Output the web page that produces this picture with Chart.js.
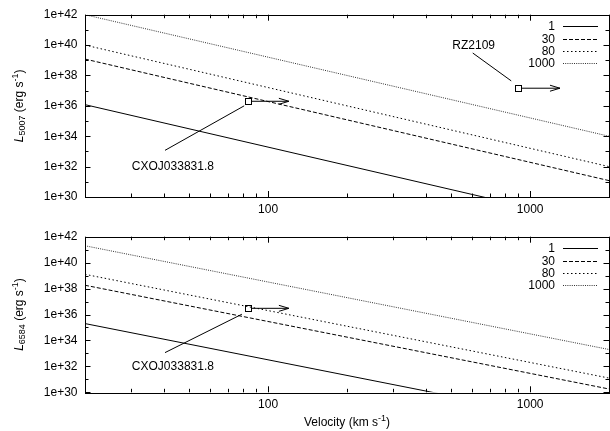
<!DOCTYPE html>
<html>
<head>
<meta charset="utf-8">
<script src="https://cdn.jsdelivr.net/npm/chart.js@4/dist/chart.umd.min.js"></script>
<style>
  html, body { margin: 0; padding: 0; background: #fff; overflow: hidden; }
  #wrap { position: relative; width: 610px; height: 431px; overflow: hidden; }
  canvas { position: absolute; left: 0; }
</style>
</head>
<body>
<div id="wrap">
  <canvas id="top" width="614" height="215" style="top:0"></canvas>
  <canvas id="bot" width="614" height="216" style="top:215px"></canvas>
</div>
<script>
// ---------- data ----------
const velocity = [20, 2000];                 // km/s, line end points
const seriesLabels = ['1', '30', '80', '1000'];

// L5007 (upper panel), values at velocity[0] and velocity[1]
const l5007_1    = [1.2e36, 1.2e28];
const l5007_30   = [1.2e39, 1.2e31];
const l5007_80   = [1.0e40, 1.0e32];
const l5007_1000 = [1.0e42, 1.0e34];

// L6584 (lower panel)
const l6584_1    = [2.0e35, 2.0e27];
const l6584_30   = [1.8e38, 1.8e30];
const l6584_80   = [1.25e39, 1.25e31];
const l6584_1000 = [2.0e41, 2.0e33];

// axis ticks
const xTickValues = [20, 30, 40, 50, 60, 70, 80, 90, 100, 200, 300, 400, 500, 600, 700, 800, 900, 1000, 2000];
const xTickLabels = ['100', '1000'];
const yExponents = [30, 31, 32, 33, 34, 35, 36, 37, 38, 39, 40, 41, 42];

// annotated sources (lower limits, arrows to higher velocity)
const srcNames5007   = ['CXOJ033831.8', 'RZ2109'];
const srcV5007       = [84, 900];
const srcL5007       = [2.0e36, 1.45e37];
const srcArrowV5007  = [120, 1300];
const lblV5007       = [43.3, 609];
const lblL5007       = [1.05e32, 8.5e39];
const ptrFromV5007   = [40.4, 604];
const ptrFromL5007   = [1.18e33, 3.0e39];
const ptrToV5007     = [81, 847];
const ptrToL5007     = [1.0e36, 4.4e37];

const srcNames6584   = ['CXOJ033831.8'];
const srcV6584       = [84];
const srcL6584       = [3.0e36];
const srcArrowV6584  = [120];
const lblV6584       = [43.3];
const lblL6584       = [8.7e31];
const ptrFromV6584   = [40.4];
const ptrFromL6584   = [1.15e33];
const ptrToV6584     = [79.4];
const ptrToL6584     = [1.05e36];

// ---------- helpers ----------
const FONT = '"Liberation Sans", Arial, Helvetica, sans-serif';
const dashes = [[], [4, 2], [1.5, 2.5], [1, 1.2]];
const colors = ['#000', '#000', '#000', '#333'];

function pts(ys) { return velocity.map((v, i) => ({ x: v, y: ys[i] })); }

function makeDatasets(arrs) {
  return arrs.map((a, i) => ({
    label: seriesLabels[i],
    data: pts(a),
    showLine: true,
    borderColor: colors[i],
    borderWidth: 1,
    borderDash: dashes[i],
    pointRadius: 0,
    fill: false,
    tension: 0
  }));
}

function drawRich(ctx, parts, cx, cy, rot) {
  ctx.save();
  ctx.translate(cx, cy);
  if (rot) ctx.rotate(rot);
  const fontFor = p => (p.italic ? 'italic ' : '') + (p.sub || p.sup ? '9px ' : '12px ') + FONT;
  let w = 0;
  parts.forEach(p => { ctx.font = fontFor(p); w += ctx.measureText(p.t).width; });
  let x = -w / 2;
  ctx.fillStyle = '#000';
  ctx.textBaseline = 'middle';
  ctx.textAlign = 'left';
  parts.forEach(p => {
    ctx.font = fontFor(p);
    const dy = p.sub ? 3 : (p.sup ? -4 : 0);
    ctx.fillText(p.t, x, dy);
    x += ctx.measureText(p.t).width;
  });
  ctx.restore();
}

function isPow10(v) { const l = Math.log10(v); return Math.abs(l - Math.round(l)) < 1e-9; }

function framePlugin(opts) {
  return {
    id: 'frame',
    afterDatasetsDraw(chart) {
      const { ctx, chartArea: a, scales: { x, y } } = chart;
      ctx.save();
      ctx.strokeStyle = '#000';
      ctx.lineWidth = 1;
      ctx.setLineDash([]);
      // ticks pointing inward
      ctx.beginPath();
      x.ticks.forEach(t => {
        const px = Math.round(x.getPixelForValue(t.value)) + 0.5;
        const len = isPow10(t.value) ? 6 : 3.5;
        ctx.moveTo(px, a.bottom); ctx.lineTo(px, a.bottom - len);
        ctx.moveTo(px, a.top); ctx.lineTo(px, a.top + len);
      });
      y.ticks.forEach(t => {
        const py = Math.round(y.getPixelForValue(t.value)) + 0.5;
        const e = Math.round(Math.log10(t.value));
        const len = e % 2 === 0 ? 5.5 : 3.5;
        ctx.moveTo(a.left, py); ctx.lineTo(a.left + len, py);
        ctx.moveTo(a.right, py); ctx.lineTo(a.right - len, py);
      });
      ctx.stroke();
      ctx.strokeRect(Math.round(a.left) + 0.5, Math.round(a.top) + 0.5,
                     Math.round(a.right - a.left), Math.round(a.bottom - a.top));

      // legend
      ctx.font = '12px ' + FONT;
      ctx.textAlign = 'right';
      ctx.textBaseline = 'middle';
      chart.data.datasets.forEach((ds, i) => {
        const ry = Math.round(a.top + 11.5 + i * 12.4) + 0.5;
        ctx.fillStyle = '#000';
        ctx.fillText(ds.label, 555, ry);
        ctx.strokeStyle = ds.borderColor;
        ctx.setLineDash(ds.borderDash);
        ctx.beginPath();
        ctx.moveTo(563, ry); ctx.lineTo(598, ry);
        ctx.stroke();
      });
      ctx.setLineDash([]);
      ctx.strokeStyle = '#000';
      ctx.fillStyle = '#000';

      // annotations
      const s = opts.src;
      ctx.save();
      ctx.beginPath();
      ctx.rect(a.left, a.top, a.right - a.left, a.bottom - a.top);
      ctx.clip();
      s.names.forEach((name, i) => {
        const sx = x.getPixelForValue(s.v[i]), sy = y.getPixelForValue(s.L[i]);
        const ex = x.getPixelForValue(s.arrowV[i]);
        ctx.strokeRect(Math.round(sx - 3) + 0.5, Math.round(sy - 3) + 0.5, 6, 6);
        ctx.beginPath();
        ctx.moveTo(sx + 3, sy); ctx.lineTo(ex, sy);
        ctx.moveTo(ex - 10, sy - 3); ctx.lineTo(ex, sy); ctx.lineTo(ex - 10, sy + 3);
        ctx.moveTo(x.getPixelForValue(s.fromV[i]), y.getPixelForValue(s.fromL[i]));
        ctx.lineTo(x.getPixelForValue(s.toV[i]), y.getPixelForValue(s.toL[i]));
        ctx.stroke();
        ctx.font = '12px ' + FONT;
        ctx.textAlign = 'center';
        ctx.textBaseline = 'middle';
        ctx.fillText(name, x.getPixelForValue(s.lblV[i]), y.getPixelForValue(s.lblL[i]));
      });
      ctx.restore();

      // axis titles
      drawRich(ctx, opts.yTitle, 20, (a.top + a.bottom) / 2, -Math.PI / 2);
      if (opts.xTitle) drawRich(ctx, opts.xTitle, (a.left + a.right) / 2, opts.xTitleY, 0);
      ctx.restore();
    }
  };
}

function makeChart(id, arrs, plotTop, xAxisH, src, yTitle, xTitle, xTitleY) {
  return new Chart(document.getElementById(id), {
    type: 'scatter',
    data: { datasets: makeDatasets(arrs) },
    options: {
      responsive: false,
      animation: false,
      layout: { padding: { left: 0, right: 0.3, top: plotTop, bottom: 0 } },
      plugins: { legend: { display: false }, tooltip: { enabled: false } },
      scales: {
        x: {
          type: 'logarithmic', min: 20, max: 2000,
          grid: { display: false, drawTicks: false },
          border: { display: false },
          afterBuildTicks: sc => { sc.ticks = xTickValues.map(v => ({ value: v })); },
          afterFit: sc => { sc.height = xAxisH; },
          ticks: {
            autoSkip: false, maxRotation: 0, padding: 5,
            color: '#000', font: { family: FONT, size: 12 },
            callback: v => { const s = String(Math.round(v)); return xTickLabels.includes(s) ? s : ''; }
          }
        },
        y: {
          type: 'logarithmic', min: 1e30, max: 1e42,
          grid: { display: false, drawTicks: false },
          border: { display: false },
          afterBuildTicks: sc => { sc.ticks = yExponents.map(e => ({ value: Math.pow(10, e) })); },
          afterFit: sc => { sc.width = 85; },
          ticks: {
            autoSkip: false, padding: 7.5,
            color: '#000', font: { family: FONT, size: 12 },
            callback: v => { const e = Math.round(Math.log10(v)); return e % 2 === 0 ? '1e+' + e : ''; }
          }
        }
      }
    },
    plugins: [framePlugin({ src, yTitle, xTitle, xTitleY })]
  });
}

makeChart('top', [l5007_1, l5007_30, l5007_80, l5007_1000], 13.3, 18,
  { names: srcNames5007, v: srcV5007, L: srcL5007, arrowV: srcArrowV5007,
    lblV: lblV5007, lblL: lblL5007, fromV: ptrFromV5007, fromL: ptrFromL5007,
    toV: ptrToV5007, toL: ptrToL5007 },
  [{ t: 'L', italic: true }, { t: '5007', sub: true }, { t: ' (erg s' }, { t: '-1', sup: true }, { t: ')' }],
  null, 0);

makeChart('bot', [l6584_1, l6584_30, l6584_80, l6584_1000], 21.7, 38.7,
  { names: srcNames6584, v: srcV6584, L: srcL6584, arrowV: srcArrowV6584,
    lblV: lblV6584, lblL: lblL6584, fromV: ptrFromV6584, fromL: ptrFromL6584,
    toV: ptrToV6584, toL: ptrToL6584 },
  [{ t: 'L', italic: true }, { t: '6584', sub: true }, { t: ' (erg s' }, { t: '-1', sup: true }, { t: ')' }],
  [{ t: 'Velocity (km s' }, { t: '-1', sup: true }, { t: ')' }], 208);
</script>
</body>
</html>
